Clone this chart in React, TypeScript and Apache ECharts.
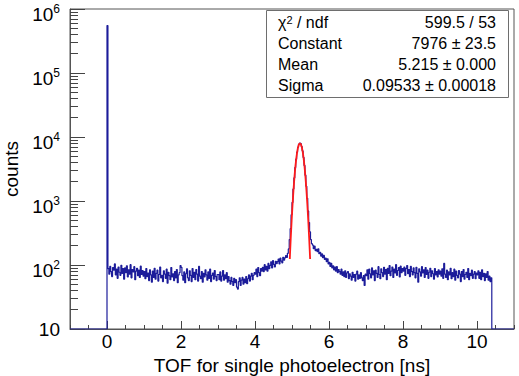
import React, { useEffect, useRef } from "react";
import * as echarts from "echarts";

// ---------- histogram definition ----------
const BIN_WIDTH = 0.025; // ns
const HIST_START = -1; // ns, left edge of the first bin
const X_MIN = -1;
const X_MAX = 11;
const Y_MIN = 10;
const Y_MAX = 1e6;

// counts per bin, -1.0 .. 0.0 ns (empty)
const countsUnderflow = [
  0, 0, 0, 0, 0, 0, 0, 0, 0, 0, 0, 0, 0, 0, 0, 0, 0, 0, 0, 0,
  0, 0, 0, 0, 0, 0, 0, 0, 0, 0, 0, 0, 0, 0, 0, 0, 0, 0, 0, 0,
];
// 0.0 .. 1.0 ns
const counts0 = [
  550000, 88, 72, 95, 79, 66, 91, 83, 104, 70, 86, 62, 93, 77, 69, 99, 74, 88, 60, 90,
  76, 97, 65, 84, 72, 101, 63, 85, 78, 94, 59, 80, 89, 68, 83, 64, 96, 71, 82, 67,
];
// 1.0 .. 2.0 ns
const counts1 = [
  79, 61, 88, 66, 75, 57, 84, 70, 54, 80, 64, 89, 60, 74, 83, 56, 71, 93, 63, 69,
  55, 81, 72, 62, 86, 52, 77, 68, 59, 91, 65, 73, 57, 79, 63, 85, 53, 70, 76, 98,
];
// 2.0 .. 3.0 ns
const counts2 = [
  92, 68, 58, 78, 53, 73, 87, 63, 57, 81, 69, 55, 88, 64, 77, 59, 85, 72, 56, 95,
  67, 61, 79, 54, 74, 65, 84, 70, 58, 78, 62, 86, 55, 69, 75, 60, 82, 66, 57, 71,
];
// 3.0 .. 4.0 ns
const counts3 = [
  71, 59, 78, 56, 67, 82, 58, 70, 61, 76, 54, 66, 57, 50, 64, 55, 48, 62, 53, 59,
  45, 42, 55, 63, 48, 58, 64, 50, 60, 53, 66, 51, 61, 70, 56, 67, 74, 59, 69, 76,
];
// 4.0 .. 5.0 ns
const counts4 = [
  72, 86, 66, 91, 76, 68, 88, 80, 92, 79, 101, 84, 95, 80, 106, 88, 99, 112, 90, 117,
  102, 93, 114, 105, 113, 124, 104, 128, 115, 108, 132, 119, 129, 140, 131, 152, 178, 250, 370, 610,
];
// 5.0 .. 6.0 ns
const counts5 = [
  950, 1540, 2290, 3330, 4510, 5790, 6880, 7710, 8020, 7820, 7100, 6050, 4800, 3590, 2530, 1700, 1100, 700, 460, 330,
  250, 215, 205, 180, 197, 168, 176, 162, 179, 150, 158, 138, 149, 130, 141, 122, 128, 113, 125, 104,
];
// 6.0 .. 7.0 ns
const counts6 = [
  110, 95, 106, 90, 97, 84, 93, 80, 94, 76, 85, 79, 72, 86, 69, 78, 66, 81, 64, 75,
  79, 61, 73, 67, 58, 77, 64, 71, 56, 72, 80, 60, 70, 62, 76, 63, 57, 68, 48, 72,
];
// 7.0 .. 8.0 ns
const counts7 = [
  68, 84, 60, 86, 73, 63, 90, 70, 81, 57, 83, 74, 64, 94, 71, 61, 87, 76, 66, 92,
  72, 85, 59, 89, 74, 98, 68, 80, 93, 64, 86, 75, 101, 69, 82, 91, 65, 96, 76, 88,
];
// 8.0 .. 9.0 ns
const counts8 = [
  80, 93, 69, 88, 98, 73, 85, 66, 95, 79, 70, 90, 76, 63, 92, 74, 54, 87, 78, 67,
  94, 75, 84, 64, 91, 71, 83, 62, 77, 89, 66, 81, 73, 60, 88, 70, 79, 65, 84, 72,
];
// 9.0 .. 10.0 ns
const counts9 = [
  80, 67, 87, 62, 106, 72, 64, 83, 59, 78, 70, 89, 61, 76, 66, 86, 58, 80, 69, 63,
  82, 72, 55, 79, 66, 85, 60, 71, 77, 64, 88, 59, 74, 68, 83, 62, 72, 79, 61, 75,
];
// 10.0 .. 10.4 ns
const counts10 = [70, 81, 62, 77, 59, 84, 66, 74, 57, 73, 64, 79, 58, 67, 55, 63];
// 10.4 .. 11.0 ns (empty)
const countsOverflow = [
  0, 0, 0, 0, 0, 0, 0, 0, 0, 0, 0, 0, 0, 0, 0, 0, 0, 0, 0, 0, 0, 0, 0, 0,
];

// ---------- gaussian fit curve ----------
const fitX = [
  4.94, 4.965, 4.99, 5.015, 5.04, 5.065, 5.09, 5.115, 5.14, 5.165, 5.19, 5.215,
  5.24, 5.265, 5.29, 5.315, 5.34, 5.365, 5.39, 5.415, 5.44, 5.465, 5.49,
];
const fitY = [
  124, 256, 492, 883, 1480, 2313, 3376, 4601, 5853, 6951, 7706, 7976,
  7706, 6951, 5853, 4601, 3376, 2313, 1480, 883, 492, 256, 124,
];

// ---------- ticks ----------
const xMajorTicks = [0, 2, 4, 6, 8, 10];
const yDecades = [10, 100, 1000, 10000, 100000];
const yMinorMultipliers = [2, 3, 4, 5, 6, 7, 8, 9];

// ---------- stats box ----------
const statLabels = ["{a|χ}{s|2}{a| / ndf}", "Constant", "Mean", "Sigma"];
const statValues = ["599.5 / 53", "7976 ± 23.5", "5.215 ± 0.000", "0.09533 ± 0.00018"];

const FONT = "'Liberation Sans', Arial, Helvetica, sans-serif";
const HIST_COLOR = "#1c1c9a";
const FIT_COLOR = "#ff1a1a";
const FRAME_COLOR = "#555555";
const TICK_COLOR = "#444444";

export default function App() {
  const ref = useRef<HTMLDivElement>(null);

  useEffect(() => {
    if (!ref.current) return;
    const chart = echarts.init(ref.current, null, { renderer: "svg" });

    const counts = [
      ...countsUnderflow, ...counts0, ...counts1, ...counts2, ...counts3, ...counts4,
      ...counts5, ...counts6, ...counts7, ...counts8, ...counts9, ...counts10, ...countsOverflow,
    ];
    const histData: number[][] = counts.map((c, i) => [HIST_START + i * BIN_WIDTH, Math.max(c, Y_MIN)]);
    histData.push([HIST_START + counts.length * BIN_WIDTH, Math.max(counts[counts.length - 1], Y_MIN)]);
    const fitData = fitX.map((x, i) => [x, fitY[i]]);

    // minor ticks of the log axis (2..9 per decade), as decimal exponents on a linear helper axis
    const yMinorTickExponents: number[] = [];
    yDecades.forEach((d) => yMinorMultipliers.forEach((m) => yMinorTickExponents.push(Math.log10(d * m))));

    const rowY = [22, 43.2, 64.4, 85.6];
    const graphic: any[] = [
      {
        type: "rect",
        z: 100,
        shape: { x: 266.5, y: 10.5, width: 242, height: 87 },
        style: { fill: "#ffffff", stroke: "#6e6e6e", lineWidth: 1 },
      },
    ];
    statLabels.forEach((t, i) => {
      graphic.push({
        type: "text",
        z: 101,
        x: 278,
        y: rowY[i],
        style: {
          text: t,
          fill: "#000",
          fontSize: 16,
          fontFamily: FONT,
          align: "left",
          verticalAlign: "middle",
          rich: {
            a: { fontSize: 16, fontFamily: FONT, lineHeight: 16, verticalAlign: "bottom" },
            s: { fontSize: 11, fontFamily: FONT, lineHeight: 14, verticalAlign: "top" },
          },
        },
      });
    });
    statValues.forEach((t, i) => {
      graphic.push({
        type: "text",
        z: 101,
        x: 496,
        y: rowY[i],
        style: {
          text: t,
          fill: "#000",
          fontSize: 16,
          fontFamily: FONT,
          align: "right",
          verticalAlign: "middle",
        },
      });
    });

    const option: any = {
      animation: false,
      backgroundColor: "#ffffff",
      textStyle: { fontFamily: FONT, color: "#000" },
      grid: {
        left: 70,
        right: 5,
        top: 9,
        bottom: 47,
        show: true,
        borderColor: FRAME_COLOR,
        borderWidth: 1,
        backgroundColor: "transparent",
        containLabel: false,
        outerBoundsMode: "none",
      },
      xAxis: [
        {
          type: "value",
          min: X_MIN,
          max: X_MAX,
          interval: 0.5,
          position: "bottom",
          axisLine: { show: true, onZero: false, lineStyle: { color: FRAME_COLOR, width: 1 } },
          axisTick: { show: true, inside: true, length: 4, lineStyle: { color: TICK_COLOR } },
          axisLabel: { show: false },
          splitLine: { show: false },
        },
        {
          type: "value",
          min: X_MIN,
          max: X_MAX,
          position: "bottom",
          axisLine: { show: false, onZero: false },
          axisTick: {
            show: true,
            inside: true,
            length: 8,
            customValues: xMajorTicks,
            lineStyle: { color: TICK_COLOR },
          },
          axisLabel: {
            show: true,
            customValues: xMajorTicks,
            fontSize: 19,
            color: "#000",
            fontFamily: FONT,
            margin: 3,
          },
          splitLine: { show: false },
          name: "TOF for single photoelectron [ns]",
          nameLocation: "middle",
          nameGap: 22,
          nameTextStyle: { fontSize: 19, color: "#000", fontFamily: FONT },
        },
      ],
      yAxis: [
        {
          type: "log",
          logBase: 10,
          min: Y_MIN,
          max: Y_MAX,
          position: "left",
          axisLine: { show: true, onZero: false, lineStyle: { color: FRAME_COLOR, width: 1 } },
          axisTick: { show: true, inside: true, length: 15, lineStyle: { color: TICK_COLOR } },
          axisLabel: {
            show: true,
            margin: 10,
            color: "#000",
            fontFamily: FONT,
            formatter: (v: number) => {
              const e = Math.round(Math.log10(v));
              return e === 1 ? "{b|10}" : `{z| }{b|10}{s|${e}}`;
            },
            rich: {
              b: { fontSize: 19, lineHeight: 19, verticalAlign: "bottom", fontFamily: FONT, color: "#000" },
              s: { fontSize: 12, lineHeight: 12, verticalAlign: "middle", fontFamily: FONT, color: "#000" },
              z: { fontSize: 1, lineHeight: 29 },
            },
          },
          splitLine: { show: false },
          name: "counts",
          nameLocation: "middle",
          nameGap: 48,
          nameTextStyle: { fontSize: 19, color: "#000", fontFamily: FONT },
        },
        {
          // linear helper axis over the decimal exponents 1..6, only used for the minor ticks
          type: "value",
          min: Math.log10(Y_MIN),
          max: Math.log10(Y_MAX),
          position: "left",
          axisLine: { show: false, onZero: false },
          axisTick: {
            show: true,
            inside: true,
            length: 8,
            customValues: yMinorTickExponents,
            lineStyle: { color: TICK_COLOR, width: 1 },
          },
          axisLabel: { show: false },
          splitLine: { show: false },
        },
      ],
      series: [
        {
          type: "line",
          xAxisIndex: 0,
          yAxisIndex: 0,
          data: histData,
          step: "end",
          showSymbol: false,
          symbol: "none",
          lineStyle: { color: HIST_COLOR, width: 1.2 },
          clip: true,
          z: 2,
        },
        {
          type: "line",
          xAxisIndex: 0,
          yAxisIndex: 0,
          data: fitData,
          showSymbol: false,
          symbol: "none",
          lineStyle: { color: FIT_COLOR, width: 1.8 },
          z: 3,
        },
      ],
      graphic,
    };

    chart.setOption(option);
    return () => chart.dispose();
  }, []);

  return (
    <div
      ref={ref}
      style={{ position: "absolute", left: 0, top: 0, width: 519, height: 376, background: "#fff" }}
    />
  );
}
